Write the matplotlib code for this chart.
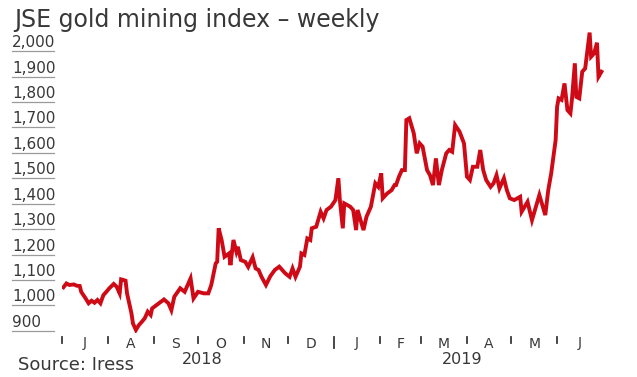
import matplotlib
matplotlib.use("Agg")
import matplotlib.pyplot as plt
import matplotlib.transforms as mtransforms
import matplotlib.dates as mdates
import pandas as pd

# ---- data ----
dates = [
    "2018-07-02", "2018-07-04", "2018-07-06", "2018-07-09", "2018-07-11", "2018-07-13",
    "2018-07-14", "2018-07-17", "2018-07-19", "2018-07-21", "2018-07-23", "2018-07-25",
    "2018-07-27", "2018-07-29", "2018-07-31", "2018-08-02", "2018-08-05", "2018-08-07",
    "2018-08-09", "2018-08-10", "2018-08-13", "2018-08-14", "2018-08-17", "2018-08-18",
    "2018-08-20", "2018-08-22", "2018-08-24", "2018-08-26", "2018-08-28", "2018-08-30",
    "2018-08-31", "2018-09-03", "2018-09-06", "2018-09-08", "2018-09-11", "2018-09-13",
    "2018-09-15", "2018-09-19", "2018-09-22", "2018-09-26", "2018-09-28", "2018-10-01",
    "2018-10-05", "2018-10-08", "2018-10-10", "2018-10-13", "2018-10-14", "2018-10-15",
    "2018-10-17", "2018-10-19", "2018-10-22", "2018-10-23", "2018-10-25", "2018-10-27",
    "2018-10-28", "2018-10-30", "2018-11-02", "2018-11-04", "2018-11-07", "2018-11-09",
    "2018-11-11", "2018-11-13", "2018-11-16", "2018-11-19", "2018-11-22", "2018-11-25",
    "2018-11-29", "2018-12-02", "2018-12-04", "2018-12-06", "2018-12-09", "2018-12-10",
    "2018-12-12", "2018-12-14", "2018-12-16", "2018-12-17", "2018-12-20", "2018-12-23",
    "2018-12-25", "2018-12-27", "2018-12-30", "2019-01-02", "2019-01-04", "2019-01-05",
    "2019-01-07", "2019-01-08", "2019-01-12", "2019-01-14", "2019-01-16", "2019-01-17",
    "2019-01-19", "2019-01-21", "2019-01-23", "2019-01-26", "2019-01-29", "2019-01-31",
    "2019-02-02", "2019-02-03", "2019-02-06", "2019-02-09", "2019-02-11", "2019-02-12",
    "2019-02-14", "2019-02-16", "2019-02-18", "2019-02-19", "2019-02-21", "2019-02-24",
    "2019-02-26", "2019-02-28", "2019-03-02", "2019-03-05", "2019-03-07", "2019-03-09",
    "2019-03-11", "2019-03-13", "2019-03-15", "2019-03-18", "2019-03-20", "2019-03-22",
    "2019-03-24", "2019-03-27", "2019-03-30", "2019-04-01", "2019-04-03", "2019-04-05",
    "2019-04-08", "2019-04-10", "2019-04-12", "2019-04-14", "2019-04-17", "2019-04-19",
    "2019-04-21", "2019-04-23", "2019-04-26", "2019-04-28", "2019-04-30", "2019-05-03",
    "2019-05-07", "2019-05-08", "2019-05-12", "2019-05-15", "2019-05-17", "2019-05-20",
    "2019-05-23", "2019-05-24", "2019-05-26", "2019-05-28", "2019-05-31", "2019-06-01",
    "2019-06-02", "2019-06-04", "2019-06-06", "2019-06-08", "2019-06-10", "2019-06-11",
    "2019-06-13", "2019-06-14", "2019-06-16", "2019-06-18", "2019-06-20", "2019-06-21",
    "2019-06-23", "2019-06-24", "2019-06-26", "2019-06-28", "2019-06-29", "2019-07-01",
]
index_values = [
    1038, 1053, 1047, 1049, 1044, 1043,
    1020, 994, 975, 985, 977, 988,
    975, 1007, 1020, 1034, 1051, 1040,
    1014, 1069, 1064, 1014, 935, 896,
    870, 889, 902, 916, 942, 929,
    955, 968, 981, 990, 975, 948,
    1001, 1034, 1020, 1073, 994, 1020,
    1014, 1014, 1047, 1132, 1138, 1270,
    1224, 1158, 1171, 1125, 1224, 1178,
    1197, 1145, 1138, 1118, 1156, 1112,
    1106, 1079, 1047, 1082, 1106, 1119,
    1093, 1079, 1112, 1079, 1119, 1171,
    1165, 1230, 1224, 1270, 1276, 1335,
    1309, 1342, 1355, 1381, 1467, 1381,
    1270, 1368, 1355, 1342, 1263, 1342,
    1302, 1263, 1315, 1355, 1447, 1433,
    1486, 1388, 1407, 1420, 1440, 1440,
    1473, 1499, 1499, 1696, 1703, 1644,
    1565, 1604, 1591, 1499, 1479, 1440,
    1545, 1440, 1499, 1565, 1578, 1571,
    1676, 1650, 1604, 1473, 1460, 1512,
    1512, 1578, 1499, 1460, 1433, 1447,
    1479, 1427, 1467, 1420, 1388, 1381,
    1394, 1335, 1374, 1302, 1342, 1401,
    1342, 1322, 1420, 1486, 1617, 1748,
    1781, 1775, 1840, 1735, 1722, 1775,
    1919, 1787, 1781, 1886, 1899, 1945,
    2040, 1945, 1958, 2000, 1866, 1886,
]
y_ticks = [900, 1000, 1100, 1200, 1300, 1400, 1500, 1600, 1700, 1800, 1900, 2000]
y_tick_labels = ["900", "1,000", "1,100", "1,200", "1,300", "1,400",
                 "1,500", "1,600", "1,700", "1,800", "1,900", "2,000"]
month_starts = ["2018-07-01", "2018-08-01", "2018-09-01", "2018-10-01", "2018-11-01",
                "2018-12-01", "2019-01-01", "2019-02-01", "2019-03-01", "2019-04-01",
                "2019-05-01", "2019-06-01", "2019-07-01"]
month_labels = ["J", "A", "S", "O", "N", "D", "J", "F", "M", "A", "M", "J"]
year_labels = ["2018", "2019"]
year_label_dates = ["2018-10-04", "2019-03-29"]

title = "JSE gold mining index – weekly"
source = "Source: Iress"

# ---- figure ----
W, H = 637, 377
fig = plt.figure(figsize=(W / 100, H / 100), dpi=100)
FONT = "DejaVu Sans"
TXT = "#383838"
RED = "#cf0a17"

ax = fig.add_axes([62 / W, 1 - 332.5 / H, (604.4 - 62) / W, (332.5 - 22.4) / H])
x = mdates.date2num(pd.to_datetime(dates).to_pydatetime())
ax.plot(x, index_values, color=RED, lw=2.8, solid_joinstyle="miter", zorder=3)
ax.set_xlim(mdates.date2num(pd.Timestamp("2018-07-01").to_pydatetime()),
            mdates.date2num(pd.Timestamp("2019-07-03").to_pydatetime()))
ax.set_ylim(860, 2080)
ax.set_axis_off()

# y labels with underlines
ylab_tr = mtransforms.blended_transform_factory(fig.transFigure, ax.transData)
uline_tr = mtransforms.offset_copy(ylab_tr, fig=fig, y=-8.5, units="dots")
for v, lab in zip(y_ticks, y_tick_labels):
    fig.text(12 / W, v, lab, transform=ylab_tr, ha="left", va="center",
             fontsize=11, color=TXT, family=FONT)
    fig.add_artist(plt.Line2D([12 / W, 54 / W], [v, v], transform=uline_tr,
                              color="#9a9a9a", lw=0.9))

# month ticks and labels
xt = mtransforms.blended_transform_factory(ax.transData, fig.transFigure)
ms = mdates.date2num(pd.to_datetime(month_starts).to_pydatetime())
for i in range(len(month_labels)):
    d = ms[i]
    top = 1 - 337 / H
    bot = 1 - (348 / H if i == 6 else 343 / H)
    fig.add_artist(plt.Line2D([d, d], [bot, top], transform=xt, color=TXT, lw=1.3))
    mid = (ms[i] + ms[i + 1]) / 2
    fig.text(mid, 1 - 343.5 / H, month_labels[i], transform=xt, ha="center",
             va="center", fontsize=10, color=TXT, family=FONT)
yd = mdates.date2num(pd.to_datetime(year_label_dates).to_pydatetime())
for lab, d in zip(year_labels, yd):
    fig.text(d, 1 - 360 / H, lab, transform=xt, ha="center", va="center",
             fontsize=11.5, color=TXT, family=FONT)

fig.text(14 / W, 1 - 27 / H, title, ha="left", va="baseline", fontsize=17,
         color=TXT, family=FONT)
fig.text(18 / W, 1 - 365 / H, source, ha="left", va="center", fontsize=13,
         color=TXT, family=FONT)

fig.savefig("out.png", dpi=100, facecolor="white")
